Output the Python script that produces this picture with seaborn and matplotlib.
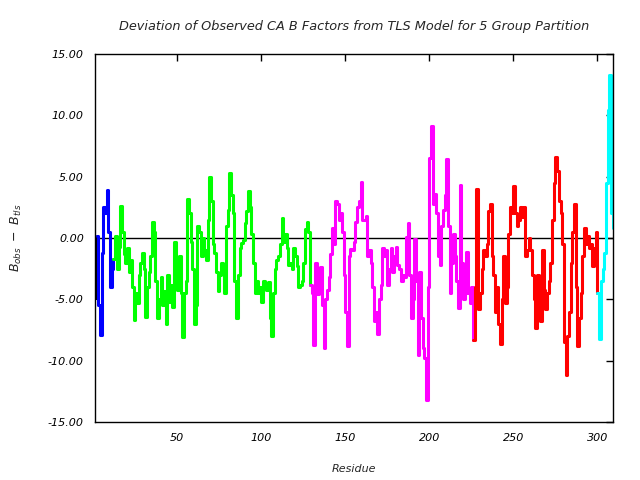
import pandas as pd
import seaborn as sns
import matplotlib.pyplot as plt
from matplotlib.ticker import FormatStrFormatter

# отклонения B_obs - B_tls по остаткам, разбиты на группы TLS
black_res = [1, 2]
black_dev = [-4.9, 0.2]

blue_res = list(range(2, 13))
blue_dev = [0.2, -5.5, -7.9, -1.2, 2.5, 2.0, 3.9, 0.5, -4.0, -2.5, -1.7]

green_res = list(range(12, 130))
green_dev = [-1.7, 0.2, -2.5, -0.7, 2.6, 0.5, -1.3, -2.0, -0.8, -2.8,
             -1.8, -4.0, -6.7, -4.5, -5.3, -3.0, -2.0, -1.2, -2.5, -6.4,
             -4.0, -2.8, -1.5, 1.3, 0.5, -3.5, -6.5, -5.0, -3.2, -5.5,
             -4.3, -7.0, -3.0, -5.2, -3.8, -5.6, -0.3, -2.2, -4.2, -1.5,
             -4.5, -8.1, -4.5, -3.5, 3.2, 2.0, -0.3, -2.5, -7.0, -5.5,
             1.0, 0.5, -1.5, 0.0, -1.0, -1.8, 1.5, 5.0, 3.0, -0.5,
             -1.2, -2.8, -4.3, -3.0, -2.0, -2.5, -4.5, 1.0, 2.3, 5.3,
             3.5, 2.0, -3.5, -6.5, -3.0, -0.8, -0.4, -0.2, 1.2, 2.2,
             3.8, 2.5, 0.3, -2.0, -4.5, -3.5, -4.5, -4.0, -5.2, -3.5,
             -3.8, -4.2, -3.6, -6.5, -8.0, -4.5, -2.5, -1.8, -1.5, -0.5,
             1.6, -0.3, 0.3, -0.8, -2.2, -2.0, -2.5, -0.8, -1.5, -2.3,
             -4.0, -3.8, -3.5, -2.0, 0.7, 1.3, 0.5, -3.8]

magenta_res = list(range(129, 227))
magenta_dev = [-3.8, -4.5, -8.7, -2.0, -4.6, -2.8, -2.4, -5.5, -9.0, -5.0,
               -4.2, -3.2, -1.3, 0.8, -0.5, 3.0, 2.8, 1.5, 2.0, 0.5,
               -3.0, -6.0, -8.8, -1.5, -0.9, -1.0, -0.3, 1.3, 2.5, 3.0,
               4.6, 1.5, 1.5, 1.8, -1.5, -1.0, -2.0, -4.0, -6.8, -6.0,
               -7.8, -5.0, -3.8, -0.8, -1.5, -1.0, -3.8, -2.5, -0.8, -2.8,
               -1.5, -0.7, -2.2, -2.5, -3.5, -3.0, -3.2, 0.1, 1.2, -3.0,
               -6.5, -5.0, -0.1, -3.5, -9.5, -2.8, -6.5, -9.0, -9.8, -13.2,
               -4.0, 6.5, 9.1, 2.8, 3.6, 2.0, -1.5, -2.2, 1.0, 2.3,
               3.5, 6.4, 1.0, -4.5, -2.0, 0.3, -1.5, -3.5, -5.7, 4.3,
               -2.0, -5.0, -4.5, -1.1, -4.5, -5.3, -4.0, -8.3]

red_res = list(range(226, 301))
red_dev = [-8.3, -4.0, 4.0, -5.8, -4.5, -2.5, -1.0, -1.5, -0.5, 2.2,
           2.8, -1.5, -3.0, -6.0, -4.0, -7.0, -8.6, -5.0, -1.5, -5.3,
           -4.0, 0.3, 2.5, 2.0, 4.2, 2.0, 1.0, 1.5, 2.5, 1.7,
           2.5, -1.5, -1.0, 0.0, -1.0, -3.0, -5.0, -7.3, -3.0, -5.5,
           -6.8, -1.0, -4.2, -5.8, -4.5, -3.5, -2.0, 1.5, 4.5, 6.6,
           5.5, 3.0, 2.0, -0.5, -8.5, -11.2, -8.0, -6.0, -2.0, 0.5,
           2.8, -4.0, -8.8, -6.5, -4.5, -1.5, 0.8, -0.5, 0.2, -0.8,
           -0.5, -2.3, -0.8, 0.5, -4.5]

cyan_res = list(range(300, 310))
cyan_dev = [-4.5, -8.2, -3.5, -2.5, -1.2, 4.5, 10.4, 13.3, 2.0, 0.8]

groups = ['0', '1', '2', '3', '4', '5']
colors = ['#000000', '#0000ff', '#00ff00', '#ff00ff', '#ff0000', '#00ffff']

parts = []
for g, r, d in zip(groups,
                   [black_res, blue_res, green_res, magenta_res, red_res, cyan_res],
                   [black_dev, blue_dev, green_dev, magenta_dev, red_dev, cyan_dev]):
    parts.append(pd.DataFrame({'residue': r, 'dev': d, 'group': g}))
df = pd.concat(parts, ignore_index=True)

sns.set_theme(style='white')
plt.rcParams['font.family'] = ['DejaVu Sans']
plt.rcParams['font.style'] = 'italic'

fig = plt.figure(figsize=(6.4, 4.8), dpi=100)
ax = fig.add_axes([0.1484, 0.1208, 0.8096, 0.7667])

sns.lineplot(data=df, x='residue', y='dev', hue='group', palette=dict(zip(groups, colors)),
             drawstyle='steps-post', lw=2.2, legend=False, estimator=None, ax=ax)
ax.axhline(0, color='black', lw=1, zorder=0)

ax.set_xlim(1, 309.3)
ax.set_ylim(-15, 15)
ax.set_xticks([50, 100, 150, 200, 250, 300])
ax.set_yticks([-15, -10, -5, 0, 5, 10, 15])
ax.yaxis.set_major_formatter(FormatStrFormatter('%.2f'))
ax.tick_params(direction='in', top=True, right=True, length=5, width=1,
               labelsize=8, colors='black', pad=8)
for s in ax.spines.values():
    s.set_color('black')
    s.set_linewidth(1)

ax.set_title('Deviation of Observed CA B Factors from TLS Model for 5 Group Partition',
             fontsize=9.3, pad=17)
ax.set_xlabel('Residue', fontsize=8, labelpad=15)
ax.set_ylabel(r'$B_{obs}\ -\ B_{tls}$', fontsize=9, labelpad=17)

plt.savefig('out.png', dpi=100)
